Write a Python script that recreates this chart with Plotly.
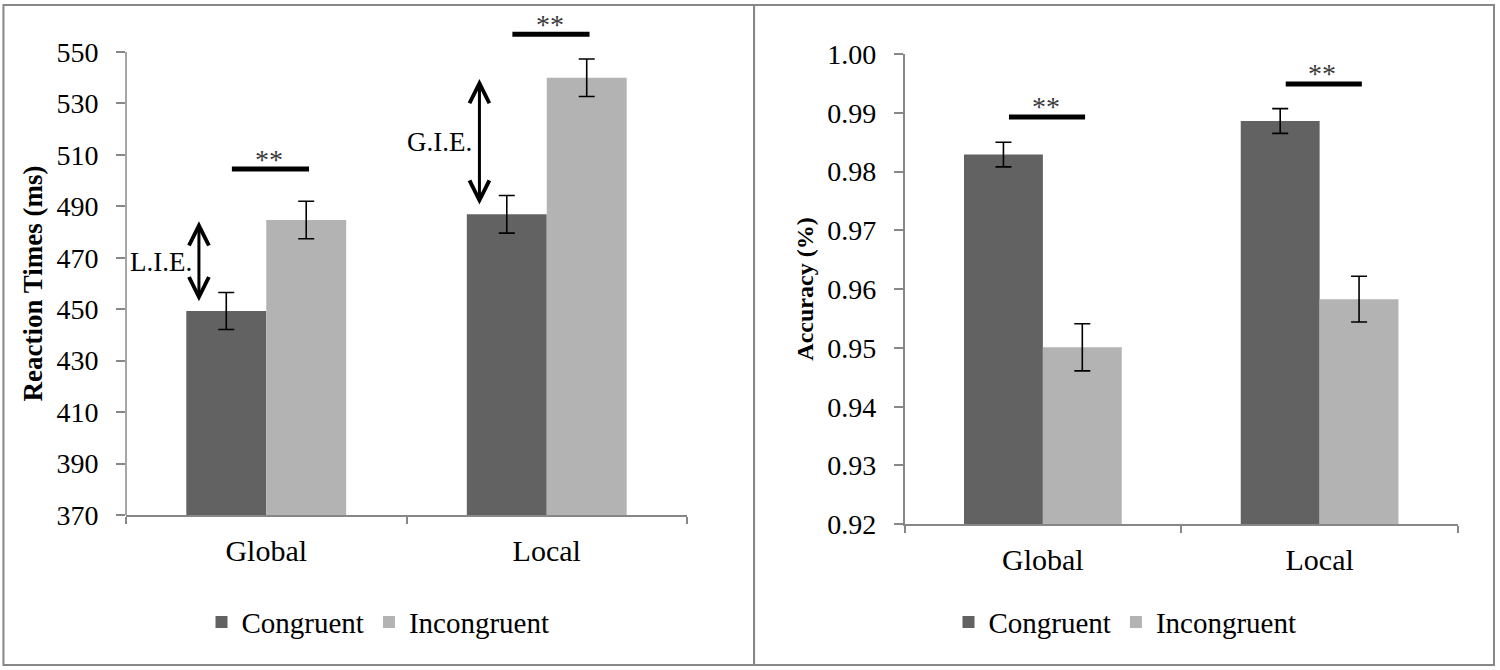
import plotly.graph_objects as go

# data
conditions = ["Global", "Local"]
series = ["Congruent", "Incongruent"]

rt_congruent = [449.3, 486.9]
rt_incongruent = [484.7, 540.0]
rt_err_congruent = [7.2, 7.3]
rt_err_incongruent = [7.3, 7.3]
rt_sig_level = [504.5, 556.9]
rt_ticks = [370, 390, 410, 430, 450, 470, 490, 510, 530, 550]
effect_labels = ["L.I.E.", "G.I.E."]

acc_congruent = [0.9829, 0.9886]
acc_incongruent = [0.9501, 0.9583]
acc_err_congruent = [0.0021, 0.0021]
acc_err_incongruent = [0.0040, 0.0039]
acc_sig_level = [0.9893, 0.9949]
acc_ticks = [0.92, 0.93, 0.94, 0.95, 0.96, 0.97, 0.98, 0.99, 1.00]

DARK = "#626262"
LIGHT = "#b3b3b3"
AXIS = "#878787"
FONT = "Liberation Serif, Times New Roman, serif"
BARGAP = 0.43
HALF = (1 - BARGAP) / 4  # offset of a bar centre from the category centre

fig = go.Figure()

panels = [
    ("x", "y", "legend", rt_congruent, rt_incongruent, rt_err_congruent, rt_err_incongruent),
    ("x2", "y2", "legend2", acc_congruent, acc_incongruent, acc_err_congruent, acc_err_incongruent),
]
for xa, ya, lg, cong, inc, econg, einc in panels:
    for name, vals, errs, col in [(series[0], cong, econg, DARK), (series[1], inc, einc, LIGHT)]:
        fig.add_trace(go.Bar(
            x=conditions, y=vals, name=name, xaxis=xa, yaxis=ya, legend=lg,
            marker=dict(color=col, line=dict(width=0)),
            error_y=dict(type="data", array=errs, color="black", thickness=1.6, width=8),
        ))

shapes = []
annotations = []

# outer frames of the two panels
shapes.append(dict(type="rect", xref="paper", yref="paper", x0=0.0023, x1=0.5027, y0=0.0075, y1=0.9925,
                   line=dict(color=AXIS, width=2)))
shapes.append(dict(type="rect", xref="paper", yref="paper", x0=0.5027, x1=0.996, y0=0.0075, y1=0.9925,
                   line=dict(color=AXIS, width=2)))

# left y axis line only up to the top tick
shapes.append(dict(type="line", xref="x domain", yref="y", x0=0, x1=0, y0=rt_ticks[0], y1=rt_ticks[-1],
                   line=dict(color=AXIS, width=1.5)))

# significance bars and stars
for xa, ya, levels in [("x", "y", rt_sig_level), ("x2", "y2", acc_sig_level)]:
    for i, lev in enumerate(levels):
        shapes.append(dict(type="line", xref=xa, yref=ya, x0=i - HALF + 0.02, x1=i + HALF + 0.01,
                           y0=lev, y1=lev, line=dict(color="black", width=5)))
        annotations.append(dict(xref=xa, yref=ya, x=i + 0.01, y=lev, text="**", showarrow=False,
                                yanchor="middle", yshift=10, font=dict(size=28, color="#3a3a3a")))

# interference effect arrows
for i, lab in enumerate(effect_labels):
    xp = i - 0.24
    lo = rt_congruent[i] + 3.6
    hi = rt_incongruent[i] - 0.5
    annotations.append(dict(xref="x", yref="y", axref="x", ayref="y", x=xp, y=hi, ax=xp, ay=lo,
                            text="", showarrow=True, arrowside="end+start", arrowhead=5, startarrowhead=5,
                            arrowsize=1.3, startarrowsize=1.3, arrowwidth=3, arrowcolor="black",
                            borderpad=0))
    annotations.append(dict(xref="x", yref="y", x=xp, y=(lo + hi) / 2, text=lab, showarrow=False,
                            xanchor="right", yanchor="middle", xshift=-5, font=dict(size=27, color="black")))

# axis titles
annotations.append(dict(xref="paper", yref="y", x=0.022, y=(rt_ticks[0] + rt_ticks[-1]) / 2,
                        xanchor="center", yanchor="middle",
                        text="<b>Reaction Times (ms)</b>", textangle=-90, showarrow=False,
                        font=dict(size=27, color="black")))
annotations.append(dict(xref="paper", yref="y2", x=0.537, y=(acc_ticks[0] + acc_ticks[-1]) / 2,
                        xanchor="center", yanchor="middle",
                        text="<b>Accuracy (%)</b>", textangle=-90, showarrow=False,
                        font=dict(size=24, color="black")))

xaxis_style = dict(showline=True, linecolor=AXIS, linewidth=1.5, ticks="outside", tickson="boundaries",
                   ticklen=7, tickcolor=AXIS, tickwidth=1.5, showgrid=False, zeroline=False,
                   tickfont=dict(size=30, color="black"), ticklabelstandoff=8, automargin=False)
yaxis_style = dict(ticks="outside", ticklen=9, tickcolor=AXIS, tickwidth=1.5, showgrid=False,
                   zeroline=False, tickfont=dict(size=28, color="black"), ticklabelstandoff=12,
                   automargin=False)

legend_style = dict(orientation="h", xanchor="center", yanchor="middle", y=0.0716,
                    font=dict(size=29, color="black"), bgcolor="rgba(0,0,0,0)")

fig.update_layout(
    width=1500, height=670,
    margin=dict(l=0, r=0, t=0, b=0, autoexpand=False),
    paper_bgcolor="white", plot_bgcolor="white",
    font=dict(family=FONT, color="black"),
    barmode="group", bargap=BARGAP, bargroupgap=0,
    xaxis=dict(domain=[0.084, 0.458], anchor="y", **xaxis_style),
    yaxis=dict(domain=[0.2313, 0.98], anchor="x", range=[370, 565], tickvals=rt_ticks,
               showline=False, **yaxis_style),
    xaxis2=dict(domain=[0.603, 0.972], anchor="y2", **xaxis_style),
    yaxis2=dict(domain=[0.2175, 0.9194], anchor="x2", range=[0.92, 1.0], tickvals=acc_ticks,
                tickformat=".2f", showline=True, linecolor=AXIS, linewidth=1.5, **yaxis_style),
    legend=dict(x=0.252, **legend_style),
    legend2=dict(x=0.75, **legend_style),
    shapes=shapes,
    annotations=annotations,
)

# drop the browser's default page margin so the figure sits at the window origin
fig.write_html("out.html", config={"displayModeBar": False},
               post_script="document.body.style.margin='0';")
